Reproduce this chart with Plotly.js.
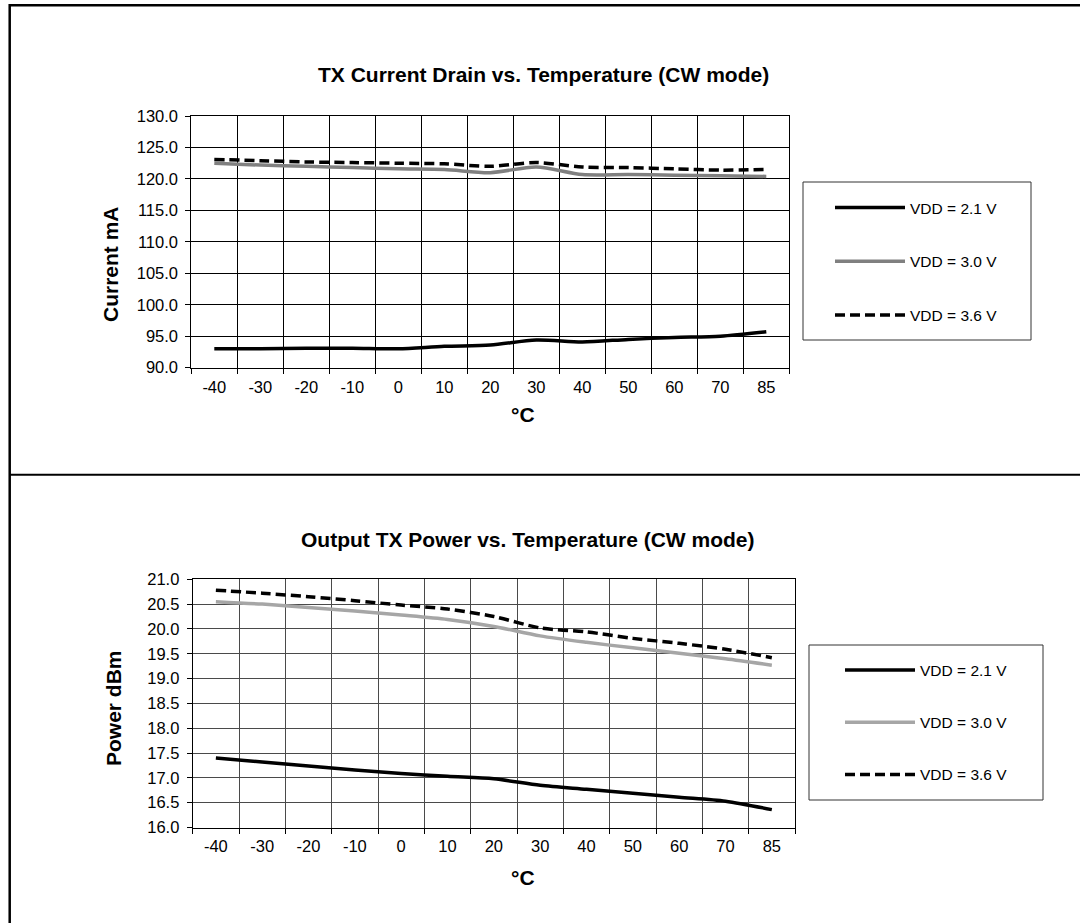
<!DOCTYPE html>
<html>
<head>
<meta charset="utf-8">
<script src="https://cdn.plot.ly/plotly-3.0.1.min.js"></script>
<style>
html,body{margin:0;padding:0;background:#fff;}
#chart{width:1080px;height:923px;}
</style>
</head>
<body>
<div id="chart"></div>
<script>
// ---- data ----
const temps = ['-40','-30','-20','-10','0','10','20','30','40','50','60','70','85'];
const seriesNames = ['VDD = 2.1 V','VDD = 3.0 V','VDD = 3.6 V'];

const current21 = [93.0, 93.0, 93.1, 93.1, 93.0, 93.4, 93.6, 94.4, 94.1, 94.5, 94.8, 95.0, 95.7];
const current30 = [122.5, 122.2, 122.0, 121.8, 121.6, 121.5, 121.0, 121.9, 120.7, 120.7, 120.6, 120.5, 120.4];
const current36 = [123.1, 122.9, 122.7, 122.6, 122.5, 122.4, 122.0, 122.6, 121.9, 121.8, 121.6, 121.4, 121.5];

const power21 = [17.40, 17.32, 17.24, 17.16, 17.09, 17.03, 16.98, 16.85, 16.77, 16.69, 16.61, 16.53, 16.36];
const power30 = [20.55, 20.50, 20.43, 20.36, 20.28, 20.19, 20.05, 19.86, 19.73, 19.62, 19.51, 19.40, 19.27];
const power36 = [20.78, 20.72, 20.65, 20.57, 20.48, 20.40, 20.25, 20.02, 19.94, 19.81, 19.71, 19.59, 19.42];

// ---- layout helpers ----
const W = 1080, H = 923;
const px = x => x / W;
const py = y => 1 - y / H;
const FONT = 'Liberation Sans, Arial, Helvetica, sans-serif';

function mk(y, name, xa, ya, color, dash, leg, grp) {
  return {
    x: temps, y: y, name: name, type: 'scatter', mode: 'lines',
    xaxis: xa, yaxis: ya, legend: leg, legendgroup: grp,
    line: {color: color, width: 3.5, dash: dash, shape: 'spline', smoothing: 0.8},
    hoverinfo: 'x+y+name'
  };
}

const traces = [
  mk(current21, seriesNames[0], 'x', 'y', '#000000', 'solid', 'legend', 'a1'),
  mk(current30, seriesNames[1], 'x', 'y', '#808080', 'solid', 'legend', 'a2'),
  mk(current36, seriesNames[2], 'x', 'y', '#000000', '10px,5px', 'legend', 'a3'),
  mk(power21, seriesNames[0], 'x2', 'y2', '#000000', 'solid', 'legend2', 'b1'),
  mk(power30, seriesNames[1], 'x2', 'y2', '#a6a6a6', 'solid', 'legend2', 'b2'),
  mk(power36, seriesNames[2], 'x2', 'y2', '#000000', '10px,5px', 'legend2', 'b3')
];

function xax(d0, d1, anchor, grid) {
  return {
    domain: [px(d0), px(d1)], anchor: anchor, type: 'category',
    range: [-0.5, temps.length - 0.5], tickson: 'boundaries',
    ticks: 'outside', ticklen: 5, tickcolor: '#000', tickwidth: 1,
    ticklabelstandoff: 4,
    showgrid: true, gridcolor: grid, gridwidth: 1,
    showline: true, linecolor: '#000', linewidth: 1, mirror: true,
    tickfont: {family: FONT, size: 16.5, color: '#000'},
    zeroline: false, fixedrange: true
  };
}
function yax(top, bottom, anchor, range, dtick, fmt, grid) {
  return {
    domain: [py(bottom), py(top)], anchor: anchor,
    range: range, dtick: dtick, tick0: range[0], tickformat: fmt,
    ticks: 'outside', ticklen: 5, tickcolor: '#000', tickwidth: 1,
    ticklabelstandoff: 4,
    showgrid: true, gridcolor: grid, gridwidth: 1,
    showline: true, linecolor: '#000', linewidth: 1, mirror: true,
    tickfont: {family: FONT, size: 16.5, color: '#000'},
    zeroline: false, fixedrange: true
  };
}

function legendCfg(x, y, gap) {
  return {
    x: px(x), y: py(y), xanchor: 'left', yanchor: 'top',
    xref: 'paper', yref: 'paper',
    bgcolor: 'rgba(0,0,0,0)', borderwidth: 0,
    font: {family: FONT, size: 15.5, color: '#000'},
    itemwidth: 70, tracegroupgap: gap, orientation: 'v',
    traceorder: 'grouped'
  };
}

function ann(text, x, y, size, bold, angle) {
  return {
    text: bold ? '<b>' + text + '</b>' : text,
    x: px(x), y: py(y), xref: 'paper', yref: 'paper',
    xanchor: 'center', yanchor: 'middle', showarrow: false,
    textangle: angle || 0,
    font: {family: FONT, size: size, color: '#000'}
  };
}

function pline(x0, y0, x1, y1, color, width) {
  return {type: 'line', xref: 'paper', yref: 'paper',
          x0: px(x0), y0: py(y0), x1: px(x1), y1: py(y1),
          line: {color: color, width: width}, layer: 'above'};
}
function prect(x0, y0, x1, y1, color, width) {
  return {type: 'rect', xref: 'paper', yref: 'paper',
          x0: px(x0), y0: py(y0), x1: px(x1), y1: py(y1),
          line: {color: color, width: width}, fillcolor: 'rgba(0,0,0,0)', layer: 'above'};
}

const layout = {
  width: W, height: H, autosize: false,
  margin: {l: 0, r: 0, t: 0, b: 0},
  paper_bgcolor: '#fff', plot_bgcolor: '#fff',
  showlegend: true,
  xaxis: xax(191.3, 789.3, 'y', '#000'),
  yaxis: yax(116, 367.7, 'x', [90, 130], 5, '.1f', '#000'),
  xaxis2: xax(192.7, 795, 'y2', '#4a4a4a'),
  yaxis2: yax(579.3, 827.5, 'x2', [16, 21], 0.5, '.1f', '#4a4a4a'),
  legend: legendCfg(830, 191, 30.5),
  legend2: legendCfg(840, 653.5, 29),
  annotations: [
    ann('TX Current Drain vs. Temperature (CW mode)', 543, 75, 21, true),
    ann('Output TX Power vs. Temperature (CW mode)', 528, 539, 21, true),
    ann('Current mA', 110, 264, 21, true, -90),
    ann('Power dBm', 113, 708, 21, true, -90),
    ann('°C', 523, 414, 21, true),
    ann('°C', 523, 877, 21, true)
  ],
  shapes: [
    pline(9.7, 5.3, 1080, 5.3, '#000', 2.5),
    pline(9.7, 4, 9.7, 923, '#000', 2.5),
    pline(9.7, 474.7, 1080, 474.7, '#000', 2),
    prect(803, 182, 1031, 340, '#333', 1),
    prect(809, 645, 1043, 800, '#333', 1)
  ]
};

Plotly.newPlot('chart', traces, layout, {displayModeBar: false, responsive: false});
</script>
</body>
</html>
